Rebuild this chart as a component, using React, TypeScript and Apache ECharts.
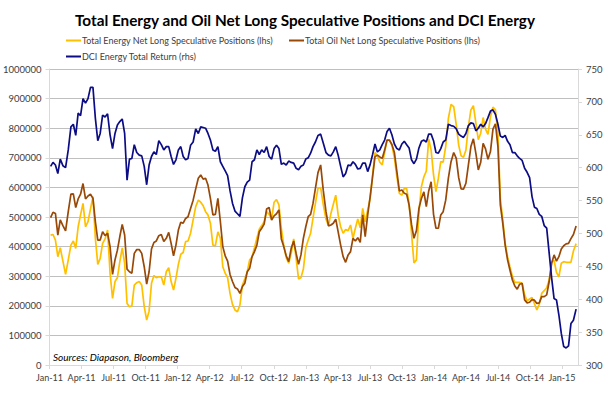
import React, { useEffect, useRef } from "react";
import * as echarts from "echarts";

// Weekly observations (CFTC Tuesdays) starting 4 Jan 2011
const START_DATE = { year: 2011, month: 0, day: 4 };
const MONTH_NAMES = ["Jan", "Feb", "Mar", "Apr", "May", "Jun", "Jul", "Aug", "Sep", "Oct", "Nov", "Dec"];
const X_TICK_MONTHS = [0, 3, 6, 9, 12, 15, 18, 21, 24, 27, 30, 33, 36, 39, 42, 45, 48];

const TITLE = "Total Energy and Oil Net Long Speculative Positions and DCI Energy";
const NAME_ENERGY = "Total Energy Net Long Speculative Positions (lhs)";
const NAME_OIL = "Total Oil Net Long Speculative Positions (lhs)";
const NAME_DCI = "DCI Energy Total Return (rhs)";
const SOURCE = "Sources: Diapason, Bloomberg";

// Total energy net long positions, thousands of contracts
const energyK = [
  439, 441, 422, 366, 396, 351, 306, 355, 405, 419, 394, 467, 507, 546, 467, 484, 527, 569, 428, 340,
  360, 411, 426, 456, 310, 225, 282, 295, 349, 396, 343, 208, 197, 200, 270, 278, 282, 270, 197, 152,
  182, 276, 302, 295, 298, 298, 270, 315, 329, 282, 253, 293, 340, 374, 380, 417, 419, 445, 490, 535,
  557, 550, 538, 518, 507, 479, 405, 403, 450, 428, 332, 310, 295, 242, 205, 186, 180, 203, 270, 291,
  315, 355, 366, 396, 428, 459, 471, 484, 518, 509, 493, 550, 559, 541, 462, 405, 363, 344, 377, 426,
  360, 291, 295, 324, 396, 422, 445, 496, 546, 597, 599, 541, 493, 471, 512, 543, 574, 507, 467, 445,
  458, 454, 473, 428, 462, 493, 464, 529, 484, 524, 563, 642, 718, 707, 685, 676, 718, 760, 760, 743,
  700, 636, 580, 574, 597, 596, 546, 446, 345, 355, 518, 603, 636, 655, 764, 726, 642, 586, 631, 687,
  685, 738, 833, 880, 873, 811, 743, 707, 702, 726, 805, 862, 876, 817, 761, 783, 836, 797, 779, 839,
  871, 862, 780, 563, 492, 411, 366, 331, 300, 279, 279, 279, 276, 237, 217, 223, 228, 207, 186, 205,
  242, 251, 261, 287, 349, 353, 313, 298, 344, 349, 347, 347, 347, 385, 410,
];

// Total oil net long positions, thousands of contracts
const oilK = [
  498, 516, 512, 439, 490, 471, 453, 518, 577, 578, 532, 561, 577, 613, 561, 571, 577, 563, 484, 422,
  422, 450, 437, 445, 400, 306, 355, 388, 434, 475, 439, 324, 315, 310, 377, 390, 390, 377, 332, 273,
  315, 392, 414, 419, 437, 441, 417, 428, 448, 411, 369, 405, 456, 482, 479, 495, 501, 529, 557, 595,
  631, 642, 628, 631, 608, 563, 507, 509, 563, 484, 400, 369, 351, 306, 282, 262, 257, 242, 265, 276,
  315, 327, 366, 383, 405, 450, 462, 476, 527, 532, 490, 504, 511, 524, 426, 400, 369, 349, 394, 419,
  377, 340, 372, 428, 467, 501, 509, 546, 597, 650, 676, 589, 518, 470, 473, 479, 493, 450, 405, 366,
  347, 372, 383, 428, 419, 430, 414, 507, 434, 507, 569, 636, 704, 709, 703, 698, 726, 760, 760, 745,
  718, 653, 588, 591, 580, 577, 540, 475, 428, 454, 529, 563, 585, 535, 588, 619, 509, 462, 462, 507,
  518, 557, 631, 687, 718, 698, 633, 595, 594, 614, 676, 738, 764, 715, 659, 685, 749, 730, 695, 721,
  797, 815, 738, 541, 479, 405, 355, 320, 287, 267, 256, 273, 276, 220, 210, 212, 221, 219, 208, 210,
  231, 231, 237, 282, 344, 372, 351, 366, 392, 403, 409, 411, 427, 441, 470,
];

// DCI Energy total return index
const dci = [
  602, 608, 604, 591, 613, 603, 600, 627, 662, 666, 649, 683, 679, 705, 698, 705, 722, 722, 675, 641,
  652, 680, 677, 682, 650, 629, 652, 665, 670, 674, 652, 581, 613, 614, 635, 623, 619, 618, 602, 574,
  604, 617, 624, 620, 641, 635, 627, 632, 632, 617, 605, 612, 627, 632, 617, 612, 614, 634, 639, 659,
  652, 662, 661, 660, 652, 642, 627, 625, 632, 609, 602, 595, 588, 565, 546, 534, 530, 526, 554, 571,
  578, 581, 609, 612, 627, 620, 627, 623, 632, 617, 613, 629, 634, 629, 605, 607, 604, 610, 608, 607,
  599, 597, 602, 604, 613, 615, 622, 632, 639, 649, 651, 637, 623, 619, 618, 624, 632, 619, 602, 586,
  591, 604, 603, 609, 605, 598, 599, 607, 607, 594, 605, 620, 636, 624, 627, 635, 642, 655, 660, 650,
  636, 629, 627, 636, 640, 635, 630, 612, 606, 613, 630, 640, 642, 639, 651, 651, 641, 623, 622, 629,
  639, 642, 666, 664, 663, 659, 651, 648, 646, 652, 664, 668, 667, 656, 660, 666, 662, 667, 676, 686,
  688, 681, 666, 648, 646, 649, 640, 635, 623, 623, 618, 614, 611, 599, 593, 585, 556, 540, 538, 529,
  526, 512, 508, 470, 432, 401, 399, 376, 348, 328, 326, 329, 363, 368, 385,
];

// months elapsed since 1 Jan 2011 for the i-th weekly observation
function monthPos(i: number): number {
  const d = new Date(Date.UTC(START_DATE.year, START_DATE.month, START_DATE.day + 7 * i));
  const y = d.getUTCFullYear();
  const m = d.getUTCMonth();
  const dim = new Date(Date.UTC(y, m + 1, 0)).getUTCDate();
  return (y - START_DATE.year) * 12 + m + (d.getUTCDate() - 1) / dim;
}

function monthLabel(v: number): string {
  const idx = Math.round(v);
  const y = START_DATE.year + Math.floor(idx / 12);
  return MONTH_NAMES[idx % 12] + "-" + String(y).slice(2);
}

const FONT = "Lato, 'Open Sans', sans-serif";
const AXIS_GREY = "#d9d9d9";
const LABEL = "#404040";

export default function App() {
  const ref = useRef<HTMLDivElement>(null);

  useEffect(() => {
    if (!ref.current) return;
    const chart = echarts.init(ref.current, undefined, { renderer: "svg" });

    const energyData = energyK.map((v, i) => [monthPos(i), v * 1000]);
    const oilData = oilK.map((v, i) => [monthPos(i), v * 1000]);
    const dciData = dci.map((v, i) => [monthPos(i), v]);

    const legendBase = {
      icon: "rect",
      itemWidth: 15,
      itemHeight: 2,
      itemGap: 0,
      selectedMode: false,
      textStyle: { fontFamily: FONT, fontSize: 9, color: LABEL, padding: [0, 0, 0, -4] },
    };

    chart.setOption({
      animation: false,
      backgroundColor: "#ffffff",
      textStyle: { fontFamily: FONT },
      title: {
        text: TITLE,
        left: "center",
        top: 7,
        textStyle: { fontFamily: FONT, fontSize: 15.3, fontWeight: "bold", color: "#000" },
      },
      legend: [
        { ...legendBase, data: [NAME_ENERGY], left: 61, top: 31 },
        { ...legendBase, data: [NAME_OIL], left: 284, top: 31 },
        { ...legendBase, data: [NAME_DCI], left: 61, top: 47 },
      ],
      grid: { left: 49, right: 32, top: 69, bottom: 34, containLabel: false },
      xAxis: {
        type: "value",
        min: 0,
        max: 49.5,
        axisLine: { show: true, onZero: false, lineStyle: { color: AXIS_GREY } },
        axisTick: { show: true, length: 4, lineStyle: { color: AXIS_GREY }, customValues: X_TICK_MONTHS },
        axisLabel: {
          customValues: X_TICK_MONTHS,
          formatter: (v: number) => monthLabel(v),
          fontFamily: FONT,
          fontSize: 9,
          color: LABEL,
          margin: 8,
        },
        splitLine: { show: false },
      },
      yAxis: [
        {
          type: "value",
          min: 0,
          max: 1000000,
          interval: 100000,
          axisLine: { show: true, lineStyle: { color: AXIS_GREY } },
          axisTick: { show: true, length: 4, lineStyle: { color: AXIS_GREY } },
          axisLabel: {
            fontFamily: FONT,
            fontSize: 9.5,
            color: LABEL,
            margin: 8,
            formatter: (v: number) => String(v),
          },
          splitLine: { show: true, lineStyle: { color: "#bfbfbf", width: 1 } },
        },
        {
          type: "value",
          min: 300,
          max: 750,
          interval: 50,
          position: "right",
          axisLine: { show: true, lineStyle: { color: AXIS_GREY } },
          axisTick: { show: true, length: 4, lineStyle: { color: AXIS_GREY } },
          axisLabel: {
            fontFamily: FONT,
            fontSize: 9.5,
            color: LABEL,
            margin: 8,
            formatter: (v: number) => String(v),
          },
          splitLine: { show: false },
        },
      ],
      series: [
        {
          name: NAME_ENERGY,
          type: "line",
          yAxisIndex: 0,
          data: energyData,
          showSymbol: false,
          color: "#FFC000",
          lineStyle: { width: 1.7, color: "#FFC000" },
        },
        {
          name: NAME_OIL,
          type: "line",
          yAxisIndex: 0,
          data: oilData,
          showSymbol: false,
          color: "#984807",
          lineStyle: { width: 1.7, color: "#984807" },
        },
        {
          name: NAME_DCI,
          type: "line",
          yAxisIndex: 1,
          data: dciData,
          showSymbol: false,
          color: "#0c0c84",
          lineStyle: { width: 1.7, color: "#0c0c84" },
        },
      ],
      graphic: [
        {
          type: "text",
          left: 53,
          top: 352,
          style: {
            text: SOURCE,
            font: "italic 10px " + FONT,
            fill: "#000",
          },
        },
      ],
    });

    return () => chart.dispose();
  }, []);

  return (
    <div
      ref={ref}
      style={{ position: "fixed", left: 0, top: 0, width: 610, height: 399 }}
    />
  );
}
